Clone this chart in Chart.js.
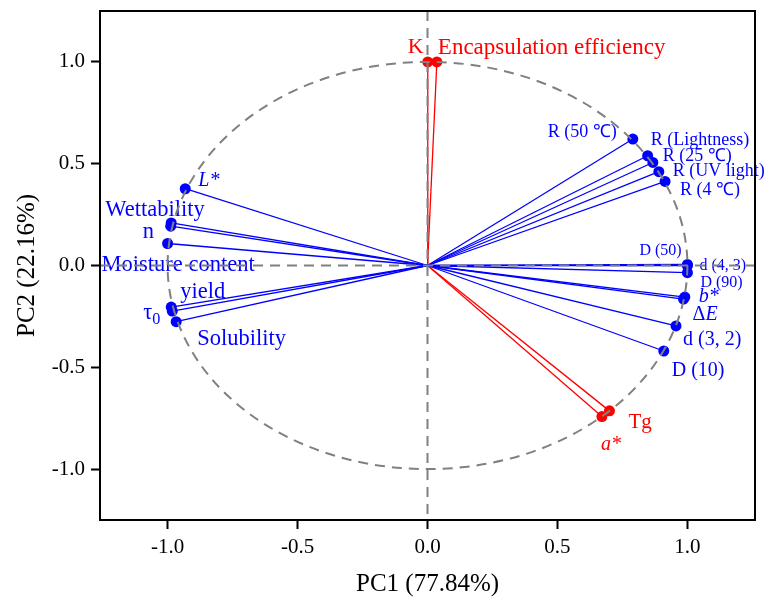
<!DOCTYPE html>
<html>
<head>
<meta charset="utf-8">
<script src="https://cdn.jsdelivr.net/npm/chart.js@4.4.1/dist/chart.umd.min.js"></script>
<style>
  html, body { margin: 0; padding: 0; background: #fff; }
  #wrap { width: 766px; height: 597px; position: relative; }
</style>
</head>
<body>
<div id="wrap"><canvas id="c"></canvas></div>
<script>
// ---- Data (loadings) ----
const blueNames = ['R (50 ℃)', 'R (Lightness)', 'R (25 ℃)', 'R (UV light)', 'R (4 ℃)',
  'D (50)', 'd (4, 3)', 'D (90)', 'b*', 'ΔE', 'd (3, 2)', 'D (10)',
  'L*', 'Wettability', 'n', 'Moisture content', 'yield', 'τ0', 'Solubility'];
const blueX = [0.79, 0.847, 0.867, 0.89, 0.914,
  1.0, 1.0, 1.0, 0.99, 0.985, 0.956, 0.909,
  -0.932, -0.986, -0.988, -1.0, -0.986, -0.982, -0.967];
const blueY = [0.621, 0.539, 0.506, 0.461, 0.413,
  0.005, 0.0, -0.035, -0.155, -0.165, -0.297, -0.42,
  0.377, 0.209, 0.193, 0.108, -0.204, -0.224, -0.276];

const redNames = ['K', 'Encapsulation efficiency', 'Tg', 'a*'];
const redX = [0.001, 0.036, 0.70, 0.671];
const redY = [1.0, 1.0, -0.714, -0.742];

const xTickVals = [-1.0, -0.5, 0.0, 0.5, 1.0];
const yTickVals = [-1.0, -0.5, 0.0, 0.5, 1.0];
const xTitle = 'PC1 (77.84%)';
const yTitle = 'PC2 (22.16%)';

// ---- Label placement (pixel offsets from each point, font sizes) ----
const blueLabelStyle = [
  [-85, -7, 18], [3, -15, 18], [10, -6, 18], [14, 0, 18], [15, 9, 18],
  [-48, -14, 16], [12, 0, 16], [13, 10, 16], [14, 0, 20], [9, 16, 20], [7, 14, 20], [8, 20, 20],
  [13, -8, 20], [-66, -13, 22.5], [-28, 6, 22.5], [-66, 22, 22.5], [9, -15, 22.5], [-29, 2, 22.5], [21, 17, 22.5]
];
const redLabelStyle = [[-20, -15, 22], [1, -14, 23], [19, 12, 21], [-1, 28, 20]];

const BLUE = '#0000ff';
const RED = '#ff0000';
const SERIF = "'Liberation Serif','Times New Roman',serif";

function makeDataset(name, x, y, color) {
  return {
    label: name,
    data: [{x: 0, y: 0}, {x: x, y: y}],
    showLine: true,
    borderColor: color,
    borderWidth: 1.3,
    pointRadius: [0, 5.5],
    pointHoverRadius: [0, 5.5],
    pointBackgroundColor: color,
    pointBorderWidth: 0,
    fill: false
  };
}

const datasets = [];
blueNames.forEach((n, i) => datasets.push(makeDataset(n, blueX[i], blueY[i], BLUE)));
redNames.forEach((n, i) => datasets.push(makeDataset(n, redX[i], redY[i], RED)));

function drawLabel(ctx, name, x, y, size, color) {
  let parts;
  if (name === 'τ0') parts = [{t: 'τ'}, {t: '0', sub: true}];
  else if (name === 'ΔE') parts = [{t: 'Δ'}, {t: 'E', it: true}];
  else if (/^[A-Za-z]\*$/.test(name)) parts = [{t: name, it: true}];
  else parts = [{t: name}];
  ctx.save();
  ctx.fillStyle = color;
  ctx.textBaseline = 'middle';
  ctx.textAlign = 'left';
  let cx = x;
  parts.forEach(p => {
    const s = p.sub ? size * 0.72 : size;
    ctx.font = (p.it ? 'italic ' : '') + s + 'px ' + SERIF;
    ctx.fillText(p.t, cx, y + (p.sub ? size * 0.28 : 0));
    cx += ctx.measureText(p.t).width;
  });
  ctx.restore();
}

const overlayPlugin = {
  id: 'pcaOverlay',
  afterDatasetsDraw(chart) {
    const ctx = chart.ctx;
    const xs = chart.scales.x, ys = chart.scales.y;
    const a = chart.chartArea;
    // labels
    blueNames.forEach((n, i) => {
      const st = blueLabelStyle[i];
      drawLabel(ctx, n, xs.getPixelForValue(blueX[i]) + st[0], ys.getPixelForValue(blueY[i]) + st[1], st[2], BLUE);
    });
    redNames.forEach((n, i) => {
      const st = redLabelStyle[i];
      drawLabel(ctx, n, xs.getPixelForValue(redX[i]) + st[0], ys.getPixelForValue(redY[i]) + st[1], st[2], RED);
    });
    // dashed reference lines and unit circle
    const x0 = xs.getPixelForValue(0), y0 = ys.getPixelForValue(0);
    const rx = xs.getPixelForValue(1) - x0, ry = y0 - ys.getPixelForValue(1);
    ctx.save();
    ctx.strokeStyle = '#808080';
    ctx.lineWidth = 2;
    ctx.setLineDash([10, 7]);
    ctx.beginPath();
    ctx.ellipse(x0, y0, rx, ry, 0, 0, Math.PI * 2);
    ctx.stroke();
    ctx.beginPath();
    ctx.moveTo(x0, a.top); ctx.lineTo(x0, a.bottom);
    ctx.stroke();
    ctx.beginPath();
    ctx.moveTo(a.left, y0); ctx.lineTo(a.right, y0);
    ctx.stroke();
    ctx.restore();
    // frame
    ctx.save();
    ctx.strokeStyle = '#000';
    ctx.lineWidth = 2;
    ctx.strokeRect(a.left, a.top, a.right - a.left, a.bottom - a.top);
    ctx.restore();
  }
};

const xTickFont = {family: SERIF, size: 21, lineHeight: 1.2};
const yTickFont = {family: SERIF, size: 21, lineHeight: 1};
const titleFont = {family: SERIF, size: 25, lineHeight: 1};

new Chart(document.getElementById('c'), {
  type: 'scatter',
  data: {datasets: datasets},
  options: {
    responsive: true,
    maintainAspectRatio: false,
    animation: false,
    layout: {padding: {top: 11, right: 11, left: 0, bottom: 0}},
    plugins: {legend: {display: false}, tooltip: {enabled: false}},
    scales: {
      x: {
        type: 'linear',
        min: -1.26, max: 1.26,
        afterBuildTicks: s => { s.ticks = xTickVals.map(v => ({value: v})); },
        afterFit: s => { s.height = 77; },
        ticks: {font: xTickFont, color: '#000', padding: 6, callback: v => Number(v).toFixed(1)},
        grid: {display: true, drawOnChartArea: false, drawTicks: true, tickLength: 9, tickWidth: 2, tickColor: '#000'},
        border: {display: true, color: '#000', width: 2},
        title: {display: true, text: xTitle, font: titleFont, color: '#000', padding: {top: 0, bottom: 0}}
      },
      y: {
        type: 'linear',
        min: -1.25, max: 1.25,
        afterBuildTicks: s => { s.ticks = yTickVals.map(v => ({value: v})); },
        afterFit: s => { s.width = 100; s.paddingTop = 0; s.paddingBottom = 0; },
        ticks: {font: yTickFont, color: '#000', padding: 6, callback: v => Number(v).toFixed(1)},
        grid: {display: true, drawOnChartArea: false, drawTicks: true, tickLength: 9, tickWidth: 2, tickColor: '#000'},
        border: {display: true, color: '#000', width: 2},
        title: {display: true, text: yTitle, font: titleFont, color: '#000', padding: {top: 14.5, bottom: 0}}
      }
    }
  },
  plugins: [overlayPlugin]
});
</script>
</body>
</html>
